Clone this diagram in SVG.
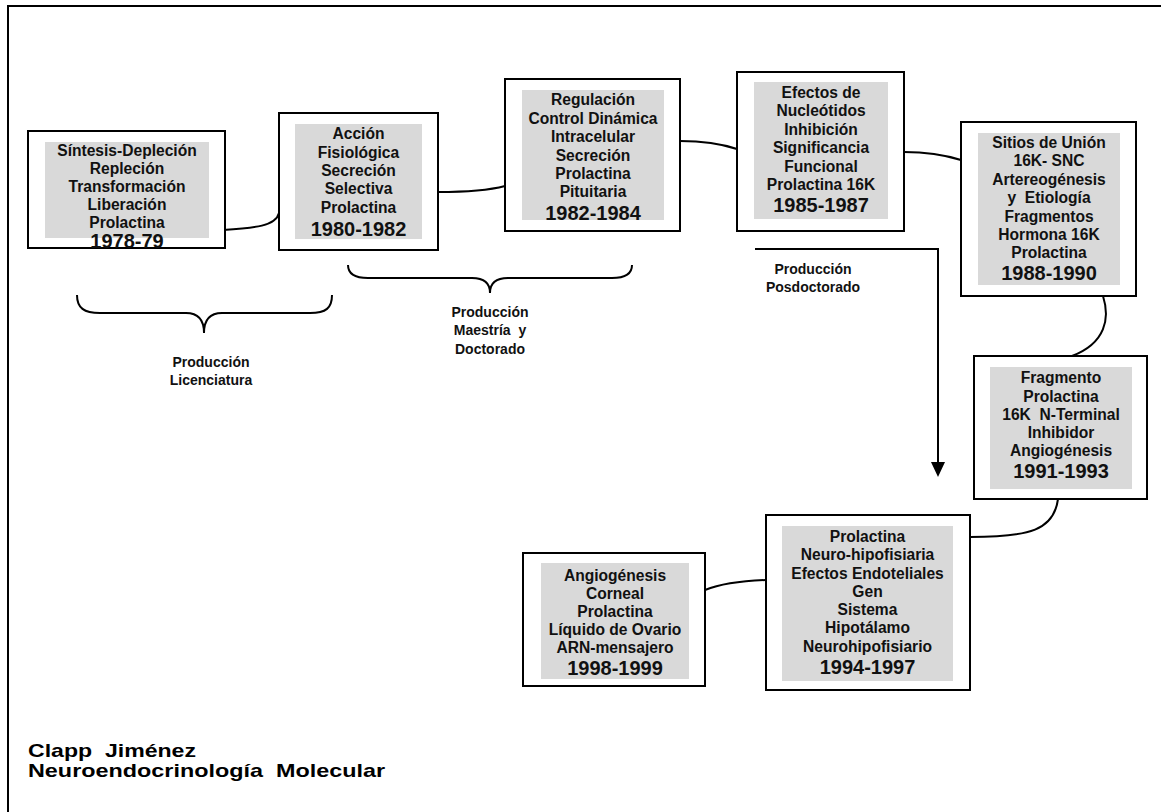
<svg xmlns="http://www.w3.org/2000/svg" width="1161" height="812" viewBox="0 0 1161 812">
  <defs>
    <style>
      .frame { fill: none; stroke: #000; stroke-width: 2; }
      .box { fill: #fff; stroke: #000; stroke-width: 2; }
      .pad { fill: #d9d9d9; stroke: none; }
      .t { font-family: "Liberation Sans", Arial, sans-serif; font-weight: bold; font-size: 15.6px; fill: #111; text-anchor: middle; white-space: pre; }
      .yr { font-size: 20px; }
      .lbl { font-family: "Liberation Sans", Arial, sans-serif; font-weight: bold; font-size: 14px; fill: #111; text-anchor: middle; white-space: pre; }
      .foot { font-family: "Liberation Sans", Arial, sans-serif; font-weight: bold; font-size: 19px; fill: #000; white-space: pre; }
      .link { fill: none; stroke: #000; stroke-width: 2; }
      .brace { fill: none; stroke: #000; stroke-width: 2; }
    </style>
    <marker id="arrowhead" markerWidth="16" markerHeight="16" refX="0" refY="8" orient="auto" markerUnits="userSpaceOnUse" viewBox="0 0 16 16">
      <path d="M0,1 L15,8 L0,15 Z" fill="#000"/>
    </marker>
  </defs>

  <rect width="1161" height="812" fill="#fff"/>
  <!-- page frame, open to the right and bottom -->
  <rect class="frame" x="8" y="6" width="1175" height="830"/>

  <!-- connectors -->
  <g id="connectors">
    <path class="link" d="M223,230 C255,228 276,226 279,213"/>
    <path class="link" d="M438,192 C470,192 490,190 505,186"/>
    <path class="link" d="M680,141 C705,141 722,144 737,149"/>
    <path class="link" d="M904,152 C930,152 945,155 961,160"/>
    <path class="link" d="M1103,296 C1110,318 1106,343 1072,356"/>
    <path class="link" d="M1058,499 C1054,530 1030,537 970,537"/>
    <path class="link" d="M766,580 C740,581 720,584 705,590"/>
    <!-- postdoctoral period bracket with arrow -->
    <path class="link" stroke-width="2.5" d="M755,249 L938,249 L938,462" marker-end="url(#arrowhead)"/>
  </g>

  <!-- period braces -->
  <g id="brace-licenciatura">
    <path class="brace" d="M77,295 C77,308 84,313 100,313 L186,313 C198,313 204,320 204,333 C204,320 210,313 222,313 L310,313 C326,313 332,308 332,295"/>
    <text class="lbl" x="211" y="367">Producción</text>
    <text class="lbl" x="211" y="385">Licenciatura</text>
  </g>
  <g id="brace-posgrado">
    <path class="brace" d="M348,265 C348,274 355,278 368,278 L472,278 C484,278 490,283 490,293 C490,283 496,278 508,278 L612,278 C625,278 632,274 632,265"/>
    <text class="lbl" x="490" y="317">Producción</text>
    <text class="lbl" x="490" y="335">Maestría  y</text>
    <text class="lbl" x="490" y="354">Doctorado</text>
  </g>
  <g id="label-posdoctorado">
    <text class="lbl" x="813" y="274">Producción</text>
    <text class="lbl" x="813" y="292">Posdoctorado</text>
  </g>

  <!-- period nodes -->
  <g id="node-1978">
    <rect class="box" x="28" y="131" width="197" height="117"/>
    <rect class="pad" x="45" y="142" width="164" height="96"/>
    <text class="t" x="127" y="155.5">Síntesis-Depleción</text>
    <text class="t" x="127" y="173.5">Repleción</text>
    <text class="t" x="127" y="191.5">Transformación</text>
    <text class="t" x="127" y="209.5">Liberación</text>
    <text class="t" x="127" y="227.5">Prolactina</text>
    <text class="t yr" x="127" y="248">1978-79</text>
  </g>

  <g id="node-1980">
    <rect class="box" x="279" y="113" width="159" height="137"/>
    <rect class="pad" x="295" y="124" width="127" height="115"/>
    <text class="t" x="358.5" y="139">Acción</text>
    <text class="t" x="358.5" y="157.5">Fisiológica</text>
    <text class="t" x="358.5" y="175.5">Secreción</text>
    <text class="t" x="358.5" y="193.5">Selectiva</text>
    <text class="t" x="358.5" y="212.5">Prolactina</text>
    <text class="t yr" x="358.5" y="236">1980-1982</text>
  </g>

  <g id="node-1982">
    <rect class="box" x="505" y="79" width="175" height="152"/>
    <rect class="pad" x="522" y="90" width="142" height="130"/>
    <text class="t" x="593" y="104.5">Regulación</text>
    <text class="t" x="593" y="123.5">Control Dinámica</text>
    <text class="t" x="593" y="141.5">Intracelular</text>
    <text class="t" x="593" y="160.5">Secreción</text>
    <text class="t" x="593" y="178.5">Prolactina</text>
    <text class="t" x="593" y="196.5">Pituitaria</text>
    <text class="t yr" x="593" y="220">1982-1984</text>
  </g>

  <g id="node-1985">
    <rect class="box" x="737" y="72" width="167" height="159"/>
    <rect class="pad" x="754" y="82" width="134" height="137"/>
    <text class="t" x="821" y="97.5">Efectos de</text>
    <text class="t" x="821" y="115.5">Nucleótidos</text>
    <text class="t" x="821" y="134.5">Inhibición</text>
    <text class="t" x="821" y="152.5">Significancia</text>
    <text class="t" x="821" y="171.5">Funcional</text>
    <text class="t" x="821" y="189.5">Prolactina 16K</text>
    <text class="t yr" x="821" y="212">1985-1987</text>
  </g>

  <g id="node-1988">
    <rect class="box" x="961" y="122" width="175" height="174"/>
    <rect class="pad" x="978" y="133" width="142" height="152"/>
    <text class="t" x="1049" y="147.5">Sitios de Unión</text>
    <text class="t" x="1049" y="165.5">16K- SNC</text>
    <text class="t" x="1049" y="184.5">Artereogénesis</text>
    <text class="t" x="1049" y="202.5">y  Etiología</text>
    <text class="t" x="1049" y="221.5">Fragmentos</text>
    <text class="t" x="1049" y="239.5">Hormona 16K</text>
    <text class="t" x="1049" y="257.5">Prolactina</text>
    <text class="t yr" x="1049" y="280">1988-1990</text>
  </g>

  <g id="node-1991">
    <rect class="box" x="974" y="356" width="173" height="143"/>
    <rect class="pad" x="990" y="367" width="142" height="122"/>
    <text class="t" x="1061" y="382.5">Fragmento</text>
    <text class="t" x="1061" y="401.5">Prolactina</text>
    <text class="t" x="1061" y="419.5">16K  N-Terminal</text>
    <text class="t" x="1061" y="437.5">Inhibidor</text>
    <text class="t" x="1061" y="455.5">Angiogénesis</text>
    <text class="t yr" x="1061" y="478">1991-1993</text>
  </g>

  <g id="node-1994">
    <rect class="box" x="766" y="515" width="204" height="175"/>
    <rect class="pad" x="782" y="526" width="171" height="155"/>
    <text class="t" x="867.5" y="541.5">Prolactina</text>
    <text class="t" x="867.5" y="559.5">Neuro-hipofisiaria</text>
    <text class="t" x="867.5" y="578.5">Efectos Endoteliales</text>
    <text class="t" x="867.5" y="596.5">Gen</text>
    <text class="t" x="867.5" y="614.5">Sistema</text>
    <text class="t" x="867.5" y="632.5">Hipotálamo</text>
    <text class="t" x="867.5" y="651.5">Neurohipofisiario</text>
    <text class="t yr" x="867.5" y="674">1994-1997</text>
  </g>

  <g id="node-1998">
    <rect class="box" x="523" y="553" width="182" height="133"/>
    <rect class="pad" x="541" y="563" width="148" height="116"/>
    <text class="t" x="615" y="580.5">Angiogénesis</text>
    <text class="t" x="615" y="598.5">Corneal</text>
    <text class="t" x="615" y="616.5">Prolactina</text>
    <text class="t" x="615" y="634.5">Líquido de Ovario</text>
    <text class="t" x="615" y="652.5">ARN-mensajero</text>
    <text class="t yr" x="615" y="675">1998-1999</text>
  </g>

  <!-- author / group credit -->
  <g id="credit">
    <text class="foot" x="28" y="757" textLength="168" lengthAdjust="spacingAndGlyphs">Clapp  Jiménez</text>
    <text class="foot" x="28" y="777" textLength="357" lengthAdjust="spacingAndGlyphs">Neuroendocrinología  Molecular</text>
  </g>
</svg>
